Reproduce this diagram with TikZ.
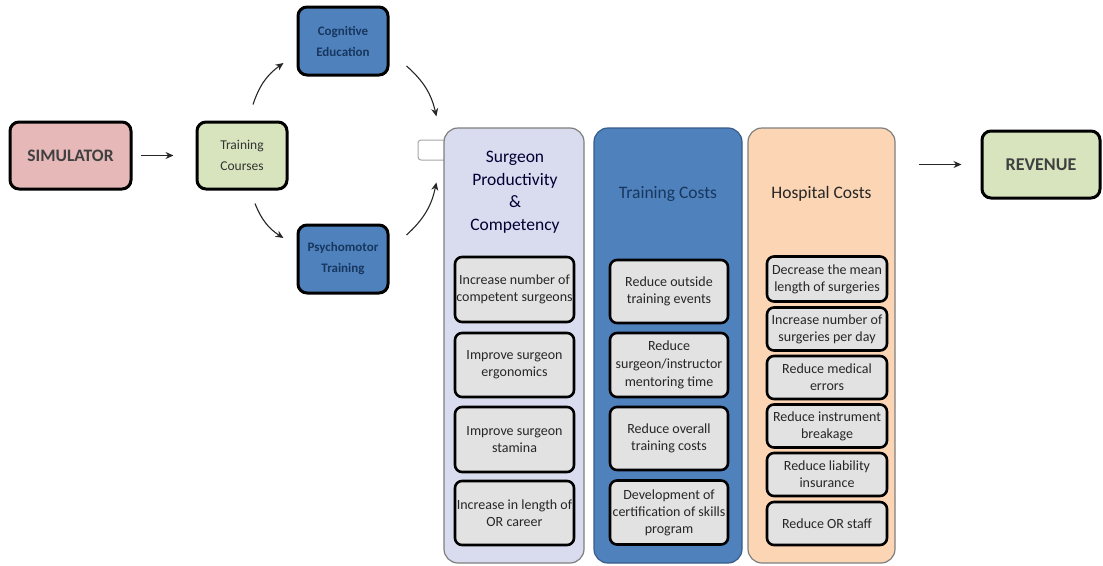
\documentclass[tikz,border=0pt]{standalone}
\usepackage{fontspec}
\setmainfont{Carlito}
\usetikzlibrary{arrows.meta}
\definecolor{pinkfill}{HTML}{E6B9B8}
\definecolor{greenfill}{HTML}{D7E4BD}
\definecolor{bluefill}{HTML}{4F81BD}
\definecolor{bluedark}{HTML}{385D8A}
\definecolor{navytext}{HTML}{17375E}
\definecolor{lavfill}{HTML}{D9DCEE}
\definecolor{peachfill}{HTML}{FCD5B4}
\definecolor{innerfill}{HTML}{E2E2E2}
\definecolor{colborder}{HTML}{7F7F7F}
\tikzset{
  ob/.style={draw=black, line width=3pt, rounded corners=9pt, align=center, inner sep=0pt},
  colbox/.style={draw=colborder, line width=1.2pt, rounded corners=14pt, inner sep=0pt},
  inbox/.style={draw=black, fill=innerfill, line width=2.6pt, rounded corners=7pt, align=center,
    inner sep=0pt, font=\fontsize{14}{17}\selectfont, text=black!85},
  ctitle/.style={align=center, inner sep=0pt, font=\fontsize{17.5}{22.5}\selectfont},
  arr/.style={-{Stealth[length=8pt,width=7pt]}, line width=1.1pt, black!85},
}
\begin{document}
\begin{tikzpicture}[x=1pt,y=-1pt]
\useasboundingbox (0,0) rectangle (1103,565);

% left flow
\node[ob, fill=pinkfill, minimum width=121pt, minimum height=67pt,
  font=\fontsize{17.5}{20}\selectfont\bfseries, text=black!75] (sim) at (70.5,155.5) {SIMULATOR};
\node[ob, fill=greenfill, minimum width=90pt, minimum height=67pt,
  font=\fontsize{13.5}{21}\selectfont, text=black!80] (tc) at (242,155.5) {Training\\Courses};
\node[ob, fill=bluefill, minimum width=90pt, minimum height=68pt,
  font=\fontsize{13}{21}\selectfont\bfseries, text=navytext] (ce) at (343,41) {Cognitive\\Education};
\node[ob, fill=bluefill, minimum width=90pt, minimum height=68pt,
  font=\fontsize{13}{21}\selectfont\bfseries, text=navytext] (pt) at (343,259) {Psychomotor\\Training};

% small tab behind column 1
\node[draw=black!35, fill=white, line width=1pt, rounded corners=3pt, minimum width=29pt,
  minimum height=20pt, inner sep=0pt] (tab) at (432.5,150) {};

% columns
\node[colbox, fill=lavfill, minimum width=140pt, minimum height=435pt] (c1) at (514,345.5) {};
\node[colbox, draw=bluedark, fill=bluefill, minimum width=148pt, minimum height=435pt] (c2) at (668,345.5) {};
\node[colbox, fill=peachfill, minimum width=147pt, minimum height=435pt] (c3) at (821.5,345.5) {};

\node[ctitle, text=black!80!blue] (t1) at (515,192) {Surgeon\\Productivity\\\&\\Competency};
\node[ctitle, text=navytext] (t2) at (668,194) {Training Costs};
\node[ctitle, text=black!85] (t3) at (821.5,194) {Hospital Costs};

% column 1 inner boxes
\node[inbox, minimum width=119pt, minimum height=65pt] (a1) at (514.5,289.5) {Increase number of\\competent surgeons};
\node[inbox, minimum width=119pt, minimum height=64pt] (a2) at (514.5,365) {Improve surgeon\\ergonomics};
\node[inbox, minimum width=119pt, minimum height=65pt] (a3) at (514.5,439.5) {Improve surgeon\\stamina};
\node[inbox, minimum width=119pt, minimum height=64pt] (a4) at (514.5,513) {Increase in length of\\OR career};

% column 2 inner boxes
\node[inbox, minimum width=118pt, minimum height=63pt] (b1) at (669,291.5) {Reduce outside\\training events};
\node[inbox, minimum width=118pt, minimum height=64pt, font=\fontsize{14}{18}\selectfont] (b2) at (669,365) {Reduce\\surgeon/instructor\\mentoring time};
\node[inbox, minimum width=118pt, minimum height=63pt] (b3) at (669,438.5) {Reduce overall\\training costs};
\node[inbox, minimum width=118pt, minimum height=64pt, font=\fontsize{14}{17}\selectfont] (b4) at (669,512.5) {Development of\\certification of skills\\program};

% column 3 inner boxes
\node[inbox, minimum width=120pt, minimum height=45pt] (h1) at (827,279) {Decrease the mean\\length of surgeries};
\node[inbox, minimum width=120pt, minimum height=43pt] (h2) at (827,329) {Increase number of\\surgeries per day};
\node[inbox, minimum width=120pt, minimum height=43pt] (h3) at (827,377.5) {Reduce medical\\errors};
\node[inbox, minimum width=120pt, minimum height=43pt] (h4) at (827,426) {Reduce instrument\\breakage};
\node[inbox, minimum width=120pt, minimum height=43pt] (h5) at (827,474.5) {Reduce liability\\insurance};
\node[inbox, minimum width=120pt, minimum height=43pt] (h6) at (827,523.5) {Reduce OR staff};

% revenue
\node[ob, fill=greenfill, minimum width=118pt, minimum height=67pt,
  font=\fontsize{18}{20}\selectfont\bfseries, text=black!75] (rev) at (1041,164.5) {REVENUE};

% connectors
\draw[arr, shorten <=8pt, shorten >=22pt] (sim.east) -- (tc.west);
\draw[arr] ([xshift=11pt,yshift=16pt]tc.north) to[bend left=18] ([xshift=-13pt,yshift=-22pt]ce.west);
\draw[arr] ([xshift=13pt,yshift=-13pt]tc.south) to[bend right=18] ([xshift=-13pt,yshift=21pt]pt.west);
\draw[arr] ([xshift=17pt,yshift=-25pt]ce.east) to[bend left=18] ([xshift=-7pt,yshift=11pt]c1.north west);
\draw[arr] ([xshift=17pt,yshift=24pt]pt.east) to[bend right=18] ([xshift=-7pt,yshift=-55pt]c1.north west);
\draw[arr, shorten <=23pt, shorten >=19pt] (c3.east |- rev.west) -- (rev.west);
\end{tikzpicture}
\end{document}
